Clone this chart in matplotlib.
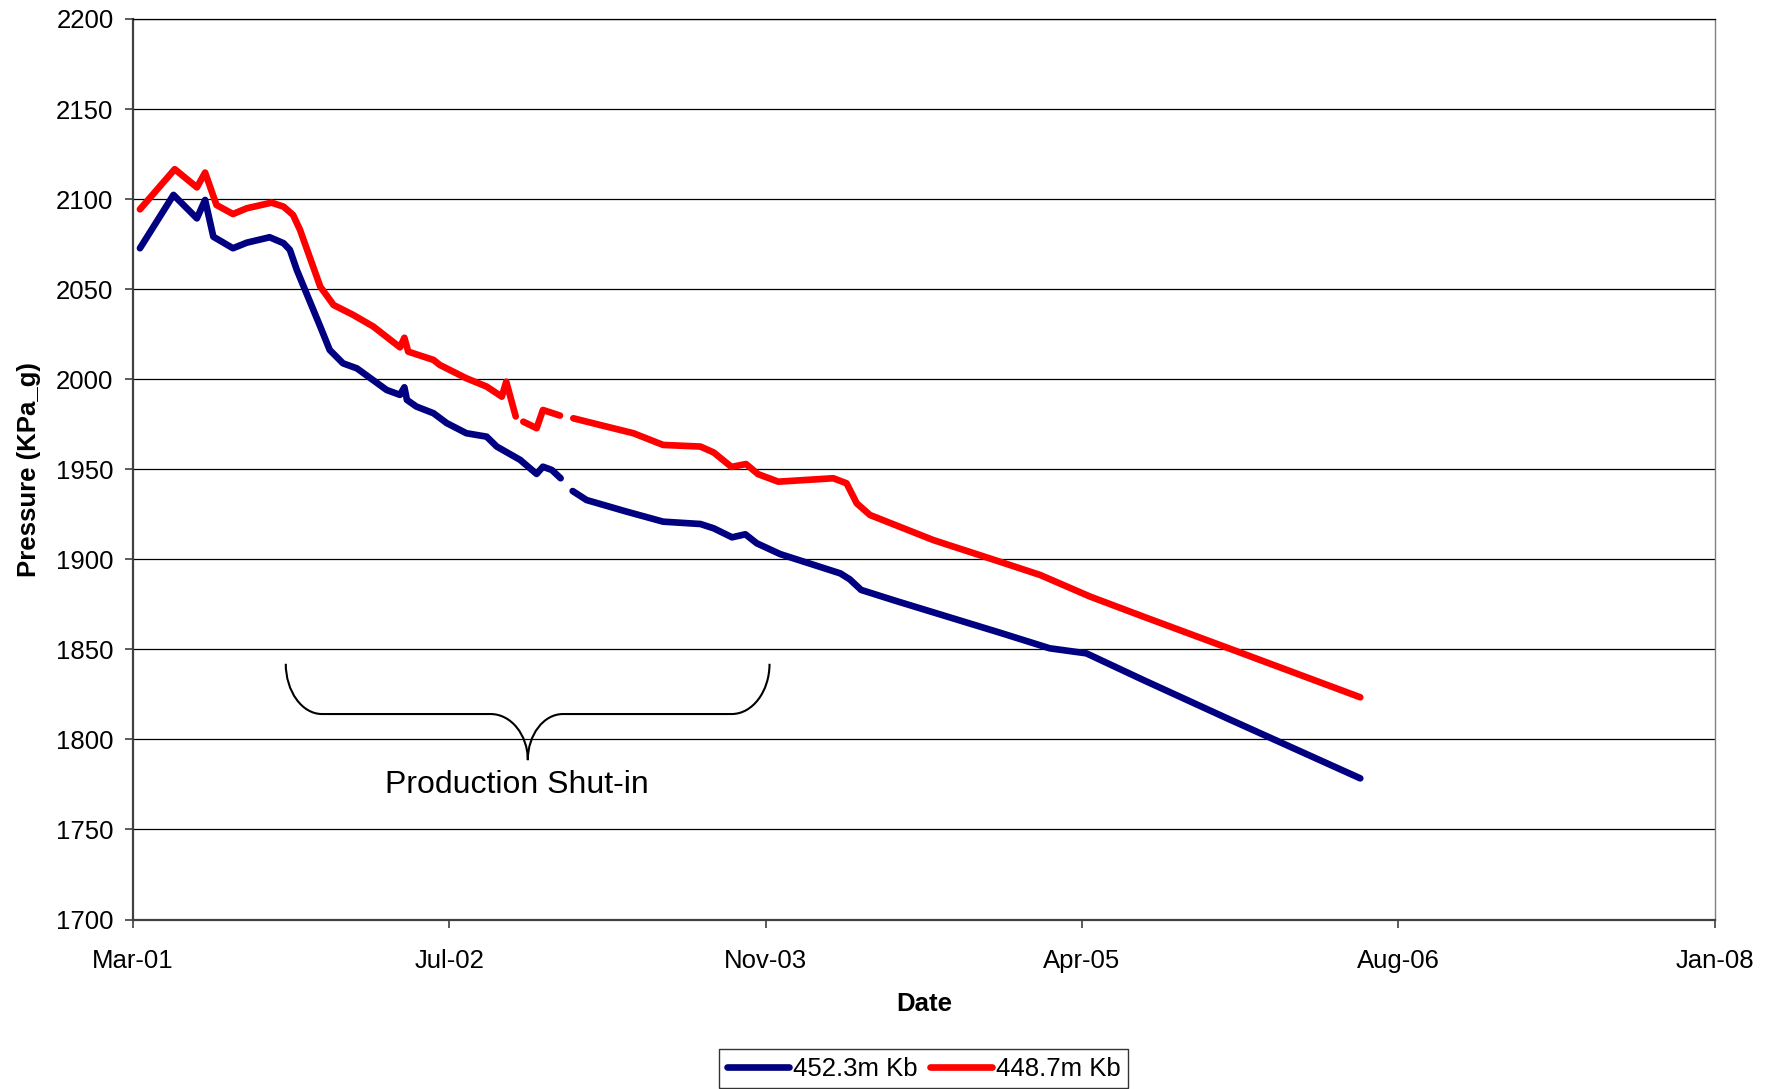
import numpy as np
import matplotlib
matplotlib.use('Agg')
import matplotlib.pyplot as plt
import matplotlib.dates as mdates
from matplotlib.path import Path
from matplotlib.patches import PathPatch

plt.rcParams['font.family'] = ['Liberation Sans', 'DejaVu Sans']

# days since 2001-03-01, nan = gap in record
t0 = np.datetime64('2001-03-01')

days_452 = [11, 64, 101, 114, 127, 158, 180, 216, 238, 248, 259, 296, 311, 332, 354, 401, 422,
            429, 433, 448, 475, 496, 527, 559, 575, 612, 638, 648, 662, 676, np.nan, 695, 717,
            780, 838, 897, 918, 947, 968, 986, 1023, 1118, 1133, 1151, 1206, 1370, 1449, 1507,
            1597, 1729, 1940]
p_452 = [2072.7, 2102.3, 2089.3, 2099.5, 2079.1, 2072.7, 2075.8, 2078.8, 2075.5, 2071.8,
         2060.6, 2029.2, 2016.2, 2008.8, 2006.0, 1994.0, 1991.3, 1995.5, 1988.5, 1984.8,
         1981.1, 1975.6, 1970.0, 1968.1, 1962.6, 1955.2, 1947.4, 1951.4, 1949.6, 1945.0,
         np.nan, 1937.9, 1932.9, 1926.5, 1920.9, 1919.6, 1917.2, 1912.2, 1913.9, 1908.9,
         1902.9, 1892.2, 1888.9, 1883.0, 1876.9, 1859.3, 1850.6, 1847.8, 1833.0, 1811.8,
         1778.4]

days_448 = [11, 66, 101, 114, 132, 158, 180, 219, 238, 253, 264, 296, 317, 348, 380, 422, 429,
            435, 475, 485, 527, 559, 583, 590, 605, np.nan, 617, 638, 648, 675, np.nan, 696,
            738, 791, 838, 897, 918, 946, 969, 988, 1020, 1107, 1128, 1144, 1165, 1265, 1370,
            1434, 1513, 1597, 1739, 1940]
p_448 = [2094.3, 2116.6, 2106.5, 2114.7, 2096.7, 2091.7, 2094.9, 2098.0, 2095.8, 2091.2,
         2082.9, 2051.4, 2041.2, 2035.7, 2029.2, 2017.7, 2023.0, 2015.3, 2010.7, 2007.9,
         2000.5, 1995.9, 1990.3, 1998.6, 1979.3, np.nan, 1976.4, 1972.8, 1982.9, 1979.8,
         np.nan, 1978.3, 1974.6, 1970.0, 1963.5, 1962.6, 1959.3, 1951.3, 1952.9, 1947.3,
         1943.1, 1945.0, 1942.2, 1931.1, 1924.6, 1910.7, 1898.7, 1891.3, 1879.3, 1868.2,
         1849.7, 1823.4]

start = mdates.date2num(t0)
x1 = start + np.array(days_452)
x2 = start + np.array(days_448)

fig = plt.figure(figsize=(17.78, 10.89), dpi=100)
ax = fig.add_axes([0.0748, 0.1556, 0.8895, 0.827])

ax.plot(x1, p_452, color='#000080', linewidth=4.8, solid_capstyle='round',
        solid_joinstyle='round', label='452.3m Kb')
ax.plot(x2, p_448, color='#FF0000', linewidth=4.8, solid_capstyle='round',
        solid_joinstyle='round', label='448.7m Kb')

ax.set_xlim(start, start + 2500)
ax.set_ylim(1700, 2200)
ax.xaxis.set_major_locator(matplotlib.ticker.FixedLocator(start + np.arange(0, 2501, 500)))
ax.xaxis.set_major_formatter(mdates.DateFormatter('%b-%y'))
ax.set_yticks(np.arange(1700, 2201, 50))

ax.yaxis.grid(True, color='black', linewidth=0.9)
ax.set_axisbelow(True)
for s in ['left', 'bottom']:
    ax.spines[s].set_color('#404040')
    ax.spines[s].set_linewidth(1.6)
ax.spines['top'].set_color('black')
ax.spines['top'].set_linewidth(0.9)
ax.spines['right'].set_color('#808080')
ax.spines['right'].set_linewidth(1.0)

ax.tick_params(axis='both', direction='out', length=6, width=1.2, color='#404040',
               labelsize=18.5)
ax.tick_params(axis='x', pad=15)
ax.tick_params(axis='y', pad=8)

ax.set_xlabel('Date', fontsize=18.5, fontweight='bold', labelpad=14)
ax.set_ylabel('Pressure (KPa_g)', fontsize=18.5, fontweight='bold', labelpad=11)

# brace for the shut-in period
xl, xr, xc = start + 241.5, start + 1006.2, start + 624.1
xhl, xhr = start + 298.7, start + 946.4
xcl, xcr = start + 565.3, start + 679.6
yt, ym, yb = 1842.0, 1814.1, 1788.5
k = 0.55
verts = [(xl, yt),
         (xl, yt - k * (yt - ym)), (xhl - k * (xhl - xl), ym), (xhl, ym),
         (xcl, ym),
         (xcl + k * (xc - xcl), ym), (xc, yb + k * (ym - yb)), (xc, yb),
         (xc, yb + k * (ym - yb)), (xcr - k * (xcr - xc), ym), (xcr, ym),
         (xhr, ym),
         (xhr + k * (xr - xhr), ym), (xr, yt - k * (yt - ym)), (xr, yt)]
codes = [Path.MOVETO,
         Path.CURVE4, Path.CURVE4, Path.CURVE4,
         Path.LINETO,
         Path.CURVE4, Path.CURVE4, Path.CURVE4,
         Path.CURVE4, Path.CURVE4, Path.CURVE4,
         Path.LINETO,
         Path.CURVE4, Path.CURVE4, Path.CURVE4]
ax.add_patch(PathPatch(Path(verts, codes), facecolor='none', edgecolor='black', linewidth=1.5))
ax.text(xc - 17, 1783.3, 'Production Shut-in', fontsize=23, ha='center', va='top')

leg = fig.legend(loc='center', bbox_to_anchor=(0.5195, 0.0186), ncol=2, fontsize=18.5,
                 frameon=True, fancybox=False, edgecolor='black', handlelength=2.4,
                 handletextpad=0.15, columnspacing=0.5, borderpad=0.3)
leg.get_frame().set_linewidth(1.0)

fig.savefig('out.png', dpi=100)
